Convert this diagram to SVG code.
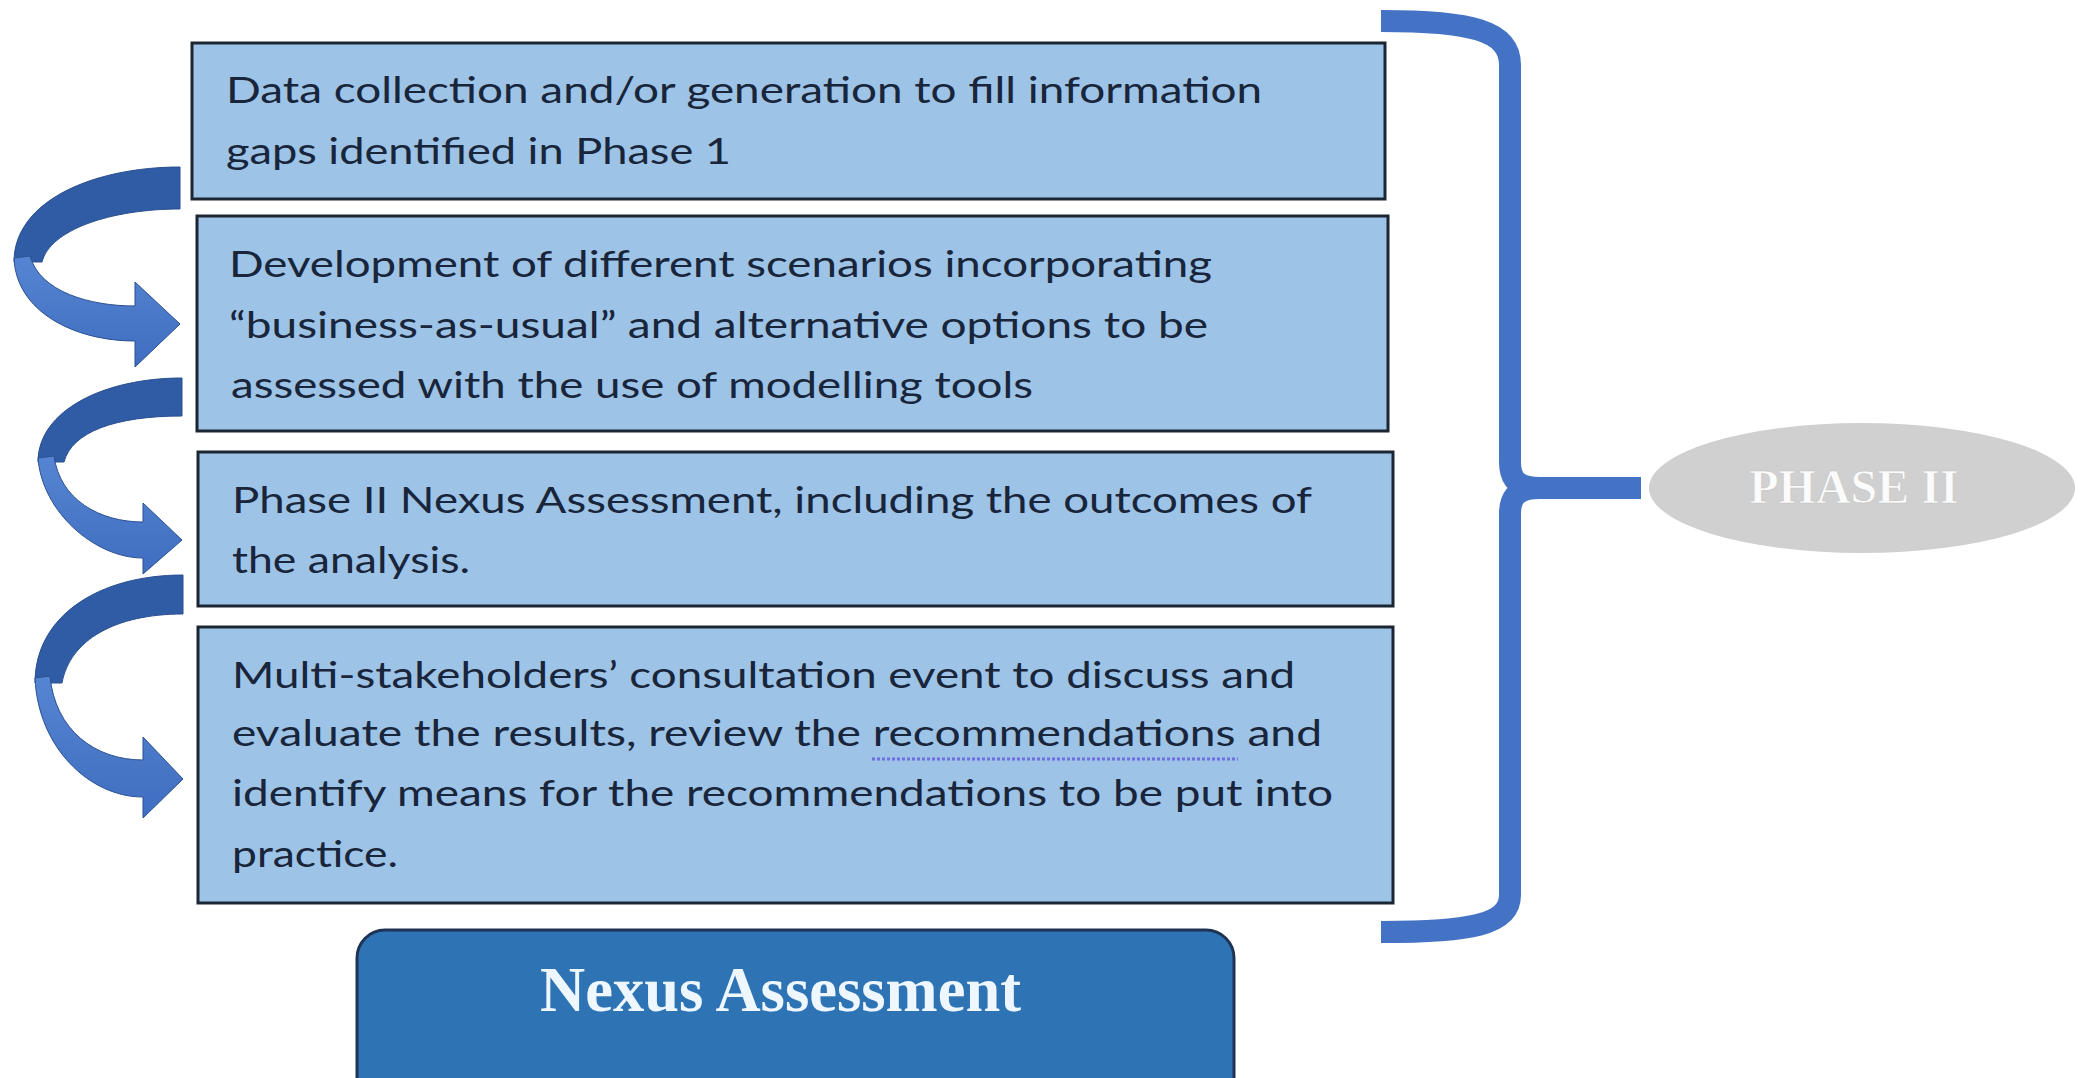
<svg xmlns="http://www.w3.org/2000/svg" width="2093" height="1078" viewBox="0 0 2093 1078">
  <style>
    .box { fill: #9dc3e6; stroke: #1c2633; stroke-width: 3; }
    .txt { font-family: Lato, "Open Sans", "Liberation Sans", sans-serif; font-size: 36px; fill: #18253a; }
    .back { fill: #2f5ca4; stroke: #2a5090; stroke-width: 1; }
    .front { fill: url(#frontGrad); stroke: #2a5090; stroke-width: 1; }
    .brace { fill: none; stroke: #4472c4; stroke-width: 22; stroke-linejoin: round; }
    .serif { font-family: "Liberation Serif", "DejaVu Serif", serif; font-weight: bold; }
  </style>
  <defs>
    <linearGradient id="frontGrad" x1="0" y1="0" x2="0" y2="1">
      <stop offset="0" stop-color="#5585d2"/>
      <stop offset="1" stop-color="#3f6dc0"/>
    </linearGradient>
  </defs>
  <rect width="2093" height="1078" fill="#ffffff"/>

  <g id="connectors">
    <g id="arrow1">
      <path class="back" d="M 180,167 C 95,167 14,200 14,262 L 42,262 C 50,230 110,209 180,209 Z"/>
      <path class="front" d="M 14,258 C 16,312 75,341 135,341 L 135,367 L 180,324 L 135,282 L 135,306 C 90,306 40,292 30,256 Z"/>
    </g>
    <g id="arrow2">
      <path class="back" d="M 182,378 C 105,378 38,410 38,462 L 64,462 C 72,432 115,416 182,416 Z"/>
      <path class="front" d="M 38,458 C 42,512 95,558 143,558 L 143,574 L 182,540 L 143,503 L 143,522 C 100,522 60,500 54,456 Z"/>
    </g>
    <g id="arrow3">
      <path class="back" d="M 183,575 C 100,575 35,615 35,683 L 62,683 C 70,640 115,614 183,614 Z"/>
      <path class="front" d="M 35,678 C 38,748 90,797 143,797 L 143,818 L 183,779 L 143,737 L 143,760 C 95,760 55,730 50,676 Z"/>
    </g>
    <g id="brace">
      <path class="brace" d="M 1381,21 C 1470,21 1510,30 1510,65 L 1510,462 C 1510,480 1518,488 1540,488 L 1641,488 M 1540,488 C 1518,488 1510,496 1510,514 L 1510,895 C 1510,925 1470,932 1381,932"/>
    </g>
  </g>

  <g id="node-data-collection">
    <rect class="box" x="192" y="43" width="1193" height="156"/>
    <text class="txt" x="226" y="103" textLength="1036" lengthAdjust="spacingAndGlyphs">Data collection and/or generation to fill information</text>
    <text class="txt" x="226" y="164" textLength="505" lengthAdjust="spacingAndGlyphs">gaps identified in Phase 1</text>
  </g>

  <g id="node-scenarios">
    <rect class="box" x="197" y="216" width="1191" height="215"/>
    <text class="txt" x="229" y="277" textLength="983" lengthAdjust="spacingAndGlyphs">Development of different scenarios incorporating</text>
    <text class="txt" x="229" y="338" textLength="979" lengthAdjust="spacingAndGlyphs">“business-as-usual” and alternative options to be</text>
    <text class="txt" x="231" y="398" textLength="802" lengthAdjust="spacingAndGlyphs">assessed with the use of modelling tools</text>
  </g>

  <g id="node-phase2-assessment">
    <rect class="box" x="198" y="452" width="1195" height="154"/>
    <text class="txt" x="232" y="513" textLength="1080" lengthAdjust="spacingAndGlyphs">Phase II Nexus Assessment, including the outcomes of</text>
    <text class="txt" x="232" y="573" textLength="238" lengthAdjust="spacingAndGlyphs">the analysis.</text>
  </g>

  <g id="node-consultation">
    <rect class="box" x="198" y="627" width="1195" height="276"/>
    <text class="txt" x="232" y="688" textLength="1063" lengthAdjust="spacingAndGlyphs">Multi-stakeholders’ consultation event to discuss and</text>
    <text class="txt" x="232" y="746" textLength="1090" lengthAdjust="spacingAndGlyphs">evaluate the results, review the recommendations and</text>
    <line x1="872" y1="759" x2="1238" y2="759" stroke="#6f6fe0" stroke-width="3" stroke-dasharray="3 2"/>
    <text class="txt" x="232" y="806" textLength="1101" lengthAdjust="spacingAndGlyphs">identify means for the recommendations to be put into</text>
    <text class="txt" x="232" y="867" textLength="166" lengthAdjust="spacingAndGlyphs">practice.</text>
  </g>

  <g id="node-nexus-assessment">
    <rect x="357" y="930" width="877" height="190" rx="28" ry="28" fill="#2e74b5" stroke="#1f3354" stroke-width="3"/>
    <text class="serif" x="540" y="1011" font-size="64" fill="#eef7ff" textLength="481" lengthAdjust="spacingAndGlyphs">Nexus Assessment</text>
  </g>

  <g id="node-phase-ii">
    <ellipse cx="1862" cy="488" rx="213" ry="65" fill="#d0d0d0"/>
    <text class="serif" x="1854" y="503" font-size="48" fill="#fbfbfb" stroke="#c4c4c4" stroke-width="0.6" text-anchor="middle">PHASE II</text>
  </g>
</svg>
